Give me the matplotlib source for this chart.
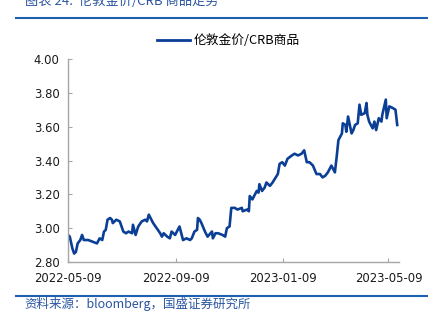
import matplotlib

matplotlib.use("Agg")

import matplotlib.dates as mdates
import matplotlib.pyplot as plt
import pandas as pd
from matplotlib.lines import Line2D

plt.rcParams["font.family"] = ["Noto Sans CJK SC", "DejaVu Sans"]
plt.rcParams["axes.unicode_minus"] = False

# 伦敦金价/CRB商品 比值
dates = [
    "2022-05-09", "2022-05-11", "2022-05-14", "2022-05-16", "2022-05-18", "2022-05-20",
    "2022-05-23", "2022-05-25", "2022-05-27", "2022-06-01", "2022-06-06", "2022-06-11",
    "2022-06-14", "2022-06-17", "2022-06-19", "2022-06-21", "2022-06-23", "2022-06-26",
    "2022-06-28", "2022-06-29", "2022-07-03", "2022-07-07", "2022-07-11", "2022-07-14",
    "2022-07-17", "2022-07-21", "2022-07-22", "2022-07-25", "2022-07-28", "2022-08-01",
    "2022-08-05", "2022-08-07", "2022-08-09", "2022-08-11", "2022-08-14", "2022-08-18",
    "2022-08-22", "2022-08-24", "2022-08-26", "2022-08-30", "2022-09-02", "2022-09-04",
    "2022-09-08", "2022-09-11", "2022-09-13", "2022-09-17", "2022-09-21", "2022-09-25",
    "2022-09-27", "2022-09-30", "2022-10-03", "2022-10-04", "2022-10-06", "2022-10-08",
    "2022-10-12", "2022-10-15", "2022-10-20", "2022-10-21", "2022-10-24", "2022-10-27",
    "2022-11-01", "2022-11-04", "2022-11-06", "2022-11-09", "2022-11-11", "2022-11-15",
    "2022-11-18", "2022-11-23", "2022-11-24", "2022-11-29", "2022-12-01", "2022-12-02",
    "2022-12-05", "2022-12-10", "2022-12-12", "2022-12-13", "2022-12-16", "2022-12-19",
    "2022-12-21", "2022-12-25", "2022-12-28", "2023-01-03", "2023-01-05", "2023-01-08",
    "2023-01-11", "2023-01-14", "2023-01-19", "2023-01-22", "2023-01-26", "2023-01-30",
    "2023-02-02", "2023-02-05", "2023-02-08", "2023-02-12", "2023-02-16", "2023-02-20",
    "2023-02-23", "2023-02-26", "2023-03-01", "2023-03-05", "2023-03-09", "2023-03-11",
    "2023-03-13", "2023-03-17", "2023-03-18", "2023-03-21", "2023-03-22", "2023-03-24",
    "2023-03-28", "2023-03-30", "2023-04-01", "2023-04-04", "2023-04-06", "2023-04-08",
    "2023-04-12", "2023-04-14", "2023-04-15", "2023-04-17", "2023-04-21", "2023-04-23",
    "2023-04-25", "2023-04-28", "2023-05-01", "2023-05-02", "2023-05-06", "2023-05-07",
    "2023-05-10", "2023-05-14", "2023-05-17", "2023-05-19",
]
ratio = [
    2.96, 2.95, 2.88, 2.85, 2.86, 2.91,
    2.93, 2.96, 2.93, 2.93, 2.92, 2.91,
    2.94, 2.93, 2.98, 2.99, 3.05, 3.06,
    3.05, 3.03, 3.05, 3.04, 2.98, 2.97,
    2.98, 2.97, 3.02, 2.96, 3.01, 3.04,
    3.05, 3.04, 3.08, 3.06, 3.03, 3.00,
    2.97, 2.95, 2.97, 2.95, 2.94, 2.98,
    2.96, 2.99, 3.01, 2.93, 2.94, 2.93,
    2.94, 2.98, 2.99, 3.06, 3.05, 3.03,
    2.98, 2.95, 2.98, 2.94, 2.97, 2.97,
    2.96, 2.95, 3.00, 3.01, 3.12, 3.12,
    3.11, 3.12, 3.10, 3.11, 3.10, 3.19,
    3.17, 3.22, 3.21, 3.26, 3.22, 3.24,
    3.27, 3.25, 3.27, 3.32, 3.38, 3.39,
    3.37, 3.41, 3.43, 3.44, 3.43, 3.44,
    3.46, 3.39, 3.39, 3.37, 3.32, 3.32,
    3.30, 3.31, 3.33, 3.37, 3.33, 3.42,
    3.52, 3.56, 3.62, 3.61, 3.57, 3.66,
    3.56, 3.58, 3.61, 3.62, 3.73, 3.67,
    3.68, 3.74, 3.67, 3.63, 3.59, 3.63,
    3.58, 3.65, 3.63, 3.67, 3.76, 3.65,
    3.72, 3.71, 3.70, 3.61,
]
x_ticks = ["2022-05-09", "2022-09-09", "2023-01-09", "2023-05-09"]
y_ticks = [2.80, 3.00, 3.20, 3.40, 3.60, 3.80, 4.00]

series_name = "伦敦金价/CRB商品"
title = "图表 24:  伦敦金价/CRB 商品走势"
source = "资料来源：bloomberg，国盛证券研究所"

line_color = "#0b3f96"
text_blue = "#2a55a0"
rule_blue = "#1f5fb0"

fig = plt.figure(figsize=(4.28, 3.22), dpi=100)
ax = fig.add_axes([0.1589, 0.1863, 0.7733, 0.6305])

ax.plot(pd.to_datetime(dates), ratio, color=line_color, lw=1.9, solid_joinstyle="round")

ax.set_ylim(2.80, 4.00)
ax.set_yticks(y_ticks)
ax.set_yticklabels([f"{v:.2f}" for v in y_ticks])
ax.set_xlim(pd.Timestamp("2022-05-09"), pd.Timestamp("2023-05-21"))
ax.set_xticks(pd.to_datetime(x_ticks))
ax.xaxis.set_major_formatter(mdates.DateFormatter("%Y-%m-%d"))

for side in ["top", "right"]:
    ax.spines[side].set_visible(False)
for side in ["left", "bottom"]:
    ax.spines[side].set_color("#a6a6a6")
    ax.spines[side].set_linewidth(1.0)
ax.tick_params(direction="in", length=3, width=0.8, color="#a6a6a6",
               labelsize=8.4, labelcolor="#1a1a1a", labelfontfamily="DejaVu Sans")
ax.tick_params(axis="x", pad=7)
ax.tick_params(axis="y", pad=6)

handle = Line2D([], [], color=line_color, lw=2.0)
fig.legend([handle], [series_name], loc="center", bbox_to_anchor=(0.533, 0.873),
           frameon=False, fontsize=9.2, handlelength=2.6, handletextpad=0.3)

# 标题、来源及分隔线
fig.text(0.058, 0.995, title, color=text_blue, fontsize=9.5, style="italic",
         ha="left", va="center")
fig.add_artist(Line2D([0.037, 1.0], [0.944, 0.944], color=rule_blue, lw=1.5))
fig.add_artist(Line2D([0.037, 1.0], [0.081, 0.081], color=rule_blue, lw=1.5))
fig.text(0.058, 0.055, source, color=text_blue, fontsize=9.0, style="italic",
         ha="left", va="center")

fig.savefig("out.png", dpi=100)
